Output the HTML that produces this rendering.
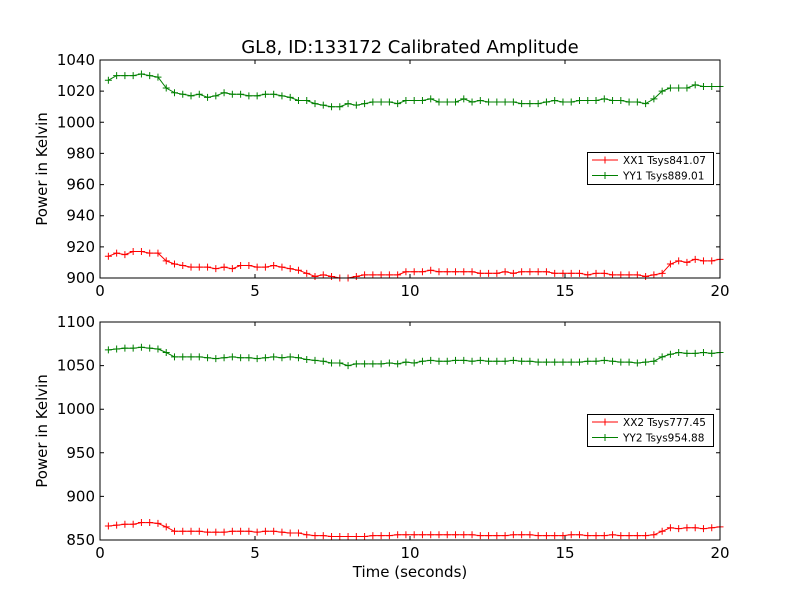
<!DOCTYPE html>
<html><head><meta charset="utf-8"><style>
body{margin:0;background:#fff}
svg text{font-family:"DejaVu Sans","Liberation Sans",sans-serif}
</style></head><body>
<svg id="c" width="800" height="600" xmlns="http://www.w3.org/2000/svg">
<rect width="800" height="600" fill="#fff"/>
<text x="410" y="53" font-size="18" text-anchor="middle">GL8, ID:133172 Calibrated Amplitude</text>
<text x="410" y="577" font-size="15" text-anchor="middle">Time (seconds)</text>
</svg>
<script>
const topXX1=[914,916,915,917,917,916,916,911,909,908,907,907,907,906,907,906,908,908,907,907,908,907,906,905,903,901,902,901,900,900,901,902,902,902,902,902,904,904,904,905,904,904,904,904,904,903,903,903,904,903,904,904,904,904,903,903,903,903,902,903,903,902,902,902,902,901,902,903,909,911,910,912,911,911,912];
const topYY1=[1027,1030,1030,1030,1031,1030,1029,1022,1019,1018,1017,1018,1016,1017,1019,1018,1018,1017,1017,1018,1018,1017,1016,1014,1014,1012,1011,1010,1010,1012,1011,1012,1013,1013,1013,1012,1014,1014,1014,1015,1013,1013,1013,1015,1013,1014,1013,1013,1013,1013,1012,1012,1012,1013,1014,1013,1013,1014,1014,1014,1015,1014,1014,1013,1013,1012,1015,1020,1022,1022,1022,1024,1023,1023,1023];
const botXX2=[866,867,868,868,870,870,869,865,860,860,860,860,859,859,859,860,860,860,859,860,860,859,858,858,856,855,855,854,854,854,854,854,855,855,855,856,856,856,856,856,856,856,856,856,856,855,855,855,855,856,856,856,855,855,855,855,856,856,855,855,855,856,855,855,855,855,856,860,864,863,864,864,863,864,865];
const botYY2=[1068,1069,1070,1070,1071,1070,1069,1065,1060,1060,1060,1060,1059,1058,1059,1060,1059,1059,1058,1059,1060,1059,1060,1059,1057,1056,1055,1053,1053,1050,1052,1052,1052,1052,1053,1052,1054,1053,1055,1056,1055,1055,1056,1056,1055,1056,1055,1055,1055,1056,1055,1055,1054,1054,1054,1054,1054,1054,1055,1055,1056,1055,1054,1054,1053,1054,1055,1060,1063,1065,1064,1064,1065,1064,1065];
const xTicks=[0,5,10,15,20];
const topYTicks=[900,920,940,960,980,1000,1020,1040];
const botYTicks=[850,900,950,1000,1050,1100];
const topLegend=["XX1 Tsys841.07","YY1 Tsys889.01"];
const botLegend=["XX2 Tsys777.45","YY2 Tsys954.88"];
const NS="http://www.w3.org/2000/svg",svg=document.getElementById('c');
function mk(t,a,p){const e=document.createElementNS(NS,t);for(const k in a)e.setAttribute(k,a[k]);(p||svg).appendChild(e);return e;}
function panel(name,y0,y1,ymin,ymax,yt,series,legend,ly){
  const L=100,R=720;
  const g=mk('g',{});
  
  
  const X=v=>L+(v-0)/(20-0)*(R-L);
  const Y=v=>y1-(v-ymin)/(ymax-ymin)*(y1-y0);
  series.forEach((s,si)=>{
    const n=s.data.length;
    const tx=i=>0.27+i*(19.73/(n-1));
    const pts=s.data.map((v,i)=>X(tx(i)).toFixed(1)+','+Y(v).toFixed(1)).join(' ');
    const pl=mk('polyline',{points:pts,fill:'none',stroke:s.c,'stroke-width':1},g);
    
    
    s.data.forEach((v,i)=>{const x=X(tx(i)),y=Y(v);
      const m=mk('path',{d:`M${x-3.5},${y}h7M${x},${y-3.5}v7`,stroke:s.c,'stroke-width':1},g);
      
      });
  });
  const fr=mk('rect',{x:L,y:y0,width:R-L,height:y1-y0,fill:'none',stroke:'#000','stroke-width':1},g);
  
  
  xTicks.forEach(v=>{const x=X(v);
    mk('path',{d:`M${x},${y1}v-4M${x},${y0}v4`,stroke:'#000'},g);
    const t=mk('text',{x:x,y:y1+18,'font-size':15,'text-anchor':'middle'},g);t.textContent=v;
    
    });
  yt.forEach(v=>{const y=Y(v);
    mk('path',{d:`M${L},${y}h4M${R},${y}h-4`,stroke:'#000'},g);
    const t=mk('text',{x:L-5,y:y+5,'font-size':15,'text-anchor':'end'},g);t.textContent=v;
    
    });
  const yl=mk('text',{x:0,y:0,'font-size':15,'text-anchor':'middle',transform:`translate(47,${(y0+y1)/2}) rotate(-90)`},g);
  yl.textContent='Power in Kelvin';
  
  
  const lg=mk('g',{},g);
  
  
  mk('rect',{x:587.5,y:ly+0.5,width:126,height:32,fill:'#fff',stroke:'#000'},lg);
  legend.forEach((txt,i)=>{const y=ly+8+i*15.5,c=series[i].c;
    const e=mk('g',{},lg);
    
    
    mk('path',{d:`M592,${y}h26M605,${y-3.5}v7`,stroke:c},e);
    const t=mk('text',{x:623,y:y+4,'font-size':10.5},e);t.textContent=txt;});
}
panel('top-panel',60,278,900,1040,topYTicks,[{data:topXX1,c:'#ff0000',n:'xx1'},{data:topYY1,c:'#008000',n:'yy1'}],topLegend,152);
panel('bottom-panel',322,540,850,1100,botYTicks,[{data:botXX2,c:'#ff0000',n:'xx2'},{data:botYY2,c:'#008000',n:'yy2'}],botLegend,414);
</script>
</body></html>
